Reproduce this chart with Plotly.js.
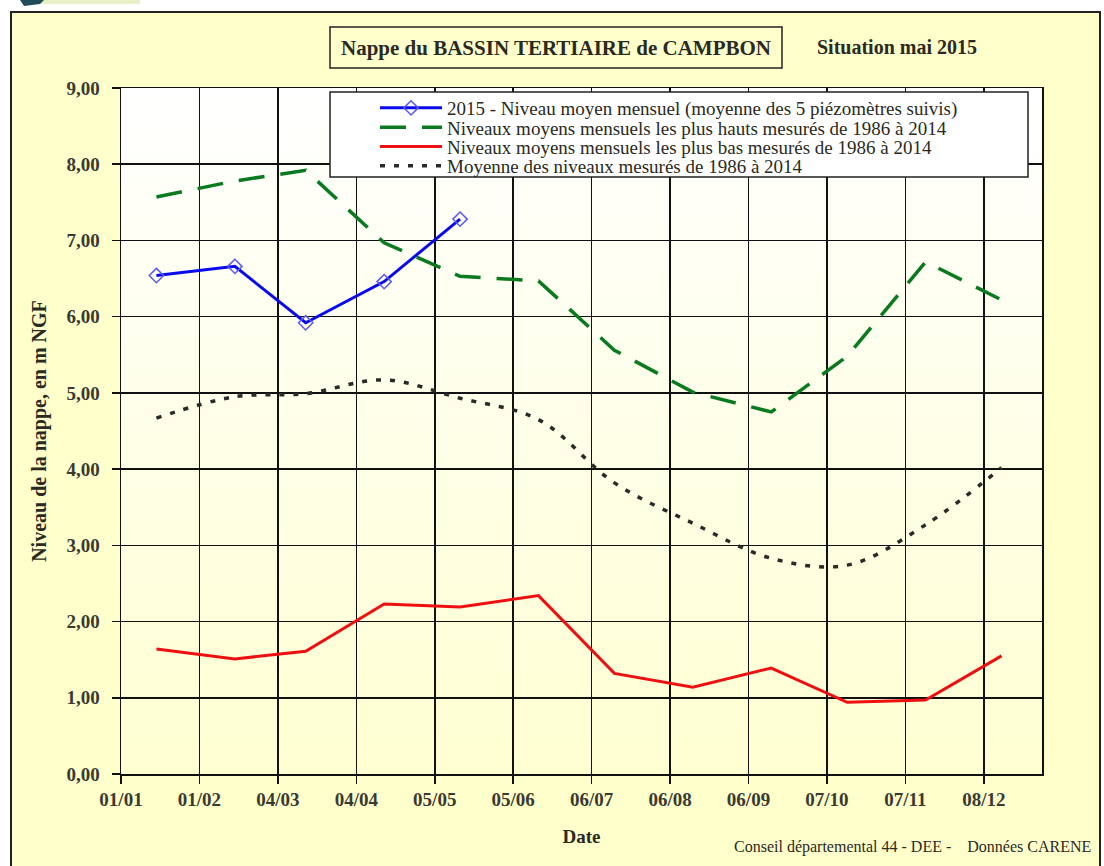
<!DOCTYPE html>
<html>
<head>
<meta charset="utf-8">
<script src="https://cdn.plot.ly/plotly-3.0.1.min.js"></script>
<style>html,body{margin:0;padding:0;background:#fff;}#chart{width:1104px;height:866px;}</style>
</head>
<body>
<div id="chart"></div>
<script>
// ---- Data ----
const months = ['2015-01-15','2015-02-15','2015-03-15','2015-04-15','2015-05-15','2015-06-15',
                '2015-07-15','2015-08-15','2015-09-15','2015-10-15','2015-11-15','2015-12-15'];
const months2015 = ['2015-01-15','2015-02-15','2015-03-15','2015-04-15','2015-05-15'];
const niveau2015 = [6.54, 6.66, 5.92, 6.46, 7.28];
const plusHauts = [7.57, 7.78, 7.92, 6.97, 6.53, 6.47, 5.56, 5.01, 4.75, 5.48, 6.72, 6.22];
const plusBas   = [1.64, 1.51, 1.61, 2.23, 2.19, 2.34, 1.32, 1.14, 1.39, 0.94, 0.97, 1.55];
const moyenne   = [4.67, 4.95, 4.99, 5.17, 4.93, 4.65, 3.82, 3.29, 2.83, 2.74, 3.27, 4.02];
const tickDates = ['2015-01-01','2015-02-01','2015-03-04','2015-04-04','2015-05-05','2015-06-05',
                   '2015-07-06','2015-08-06','2015-09-06','2015-10-07','2015-11-07','2015-12-08'];
const tickLabels = ['01/01','01/02','04/03','04/04','05/05','05/06','06/07','06/08','06/09','07/10','07/11','08/12'];
const seriesNames = [
  '2015 - Niveau moyen mensuel (moyenne des 5 piézomètres suivis)',
  'Niveaux moyens mensuels les plus hauts mesurés de 1986 à 2014',
  'Niveaux moyens mensuels les plus bas mesurés de 1986 à 2014',
  'Moyenne des niveaux mesurés de 1986 à 2014'
];

const SERIF = 'Liberation Serif, Times New Roman, serif';
const TXT = '#2a2a22';

const traces = [
  {x: months2015, y: niveau2015, name: seriesNames[0], type: 'scatter', mode: 'lines+markers',
   line: {color: '#0A0AF0', width: 3},
   marker: {symbol: 'diamond-open', size: 11, color: '#5A5AF0', line: {width: 1.5, color: '#5A5AF0'}}},
  {x: months, y: plusHauts, name: seriesNames[1], type: 'scatter', mode: 'lines',
   line: {color: '#0A7A1E', width: 3.5, dash: '26px,16px'}},
  {x: months, y: plusBas, name: seriesNames[2], type: 'scatter', mode: 'lines',
   line: {color: '#EE1010', width: 3}},
  {x: months, y: moyenne, name: seriesNames[3], type: 'scatter', mode: 'lines',
   line: {color: '#2a2a2a', width: 3.5, dash: '5px,9px', shape: 'spline', smoothing: 1}}
];

// plot area geometry helpers (pixels -> paper)
const L = 121, R = 1042, T = 88, B = 774;
const px = v => (v - L) / (R - L);
const py = v => (B - v) / (B - T);

const gradSvg = '<svg xmlns="http://www.w3.org/2000/svg" width="100" height="100" preserveAspectRatio="none">' +
  '<defs><linearGradient id="g" x1="0" y1="0" x2="0" y2="1">' +
  '<stop offset="0" stop-color="#FFFFFF"/><stop offset="1" stop-color="#FFFFD2"/></linearGradient></defs>' +
  '<rect width="100" height="100" fill="url(#g)"/></svg>';

const layout = {
  width: 1104, height: 866,
  margin: {l: L, r: 1104 - R, t: T, b: 866 - B, pad: 0},
  paper_bgcolor: '#FFFFCC',
  plot_bgcolor: 'rgba(0,0,0,0)',
  separators: ', ',
  font: {family: SERIF, color: TXT},
  title: {text: '<b>Nappe du BASSIN TERTIAIRE de CAMPBON</b>', xref: 'container', yref: 'container',
          x: 556 / 1104, xanchor: 'center', y: 1 - 48 / 866, yanchor: 'middle',
          font: {family: SERIF, size: 21, color: TXT}},
  xaxis: {
    type: 'date', range: ['2015-01-01', '2015-12-31'],
    tickmode: 'array', tickvals: tickDates, ticktext: tickLabels,
    ticks: 'outside', ticklen: 8, tickwidth: 1.5, tickcolor: '#111',
    showgrid: true, gridcolor: '#111', gridwidth: 1.5,
    showline: true, linecolor: '#111', linewidth: 1.5, mirror: true,
    zeroline: false,
    tickfont: {family: SERIF, size: 19, color: '#3a3a30', weight: 'bold'},
    title: {text: '<b>Date</b>', font: {family: SERIF, size: 19, color: TXT}, standoff: 20}
  },
  yaxis: {
    range: [0, 9], dtick: 1, tick0: 0, tickformat: '.2f',
    ticks: 'outside', ticklen: 8, tickwidth: 1.5, tickcolor: '#111',
    showgrid: true, gridcolor: '#111', gridwidth: 1.5,
    showline: true, linecolor: '#111', linewidth: 1.5, mirror: true,
    zeroline: false, ticklabelstandoff: 8,
    tickfont: {family: SERIF, size: 19, color: '#3a3a30', weight: 'bold'},
    title: {text: '<b>Niveau de la nappe, en m NGF</b>', font: {family: SERIF, size: 20, color: TXT}, standoff: 14}
  },
  showlegend: true,
  legend: {
    x: px(375), xanchor: 'left', y: py(89), yanchor: 'top',
    bgcolor: 'rgba(0,0,0,0)', borderwidth: 0,
    font: {family: SERIF, size: 19, color: TXT},
    itemwidth: 62, tracegroupgap: 0
  },
  images: [{source: 'data:image/svg+xml;charset=utf-8,' + encodeURIComponent(gradSvg),
            xref: 'paper', yref: 'paper', x: 0, y: 1, sizex: 1, sizey: 1,
            sizing: 'stretch', layer: 'below', xanchor: 'left', yanchor: 'top'}],
  shapes: [
    // white margins outside the outer frame
    {type: 'rect', xref: 'paper', yref: 'paper', x0: px(0), x1: px(1104), y0: py(12), y1: py(0),
     fillcolor: '#FFFFFF', line: {width: 0}, layer: 'below'},
    {type: 'rect', xref: 'paper', yref: 'paper', x0: px(0), x1: px(11), y0: py(866), y1: py(12),
     fillcolor: '#FFFFFF', line: {width: 0}, layer: 'below'},
    {type: 'rect', xref: 'paper', yref: 'paper', x0: px(1100), x1: px(1104), y0: py(866), y1: py(12),
     fillcolor: '#FFFFFF', line: {width: 0}, layer: 'below'},
    // partial logo at the top-left corner
    {type: 'rect', xref: 'paper', yref: 'paper', x0: px(40), x1: px(140), y0: py(4), y1: py(0),
     fillcolor: '#E8F0C8', line: {width: 0}, layer: 'below'},
    {type: 'path', xref: 'paper', yref: 'paper', layer: 'below', fillcolor: '#1F4E5A', line: {width: 0},
     path: `M ${px(20)} ${py(0)} L ${px(44)} ${py(0)} L ${px(40)} ${py(4)} L ${px(24)} ${py(6)} Z`},
    // outer frame
    {type: 'rect', xref: 'paper', yref: 'paper', x0: px(11), x1: px(1100), y0: py(880), y1: py(12),
     line: {color: '#222', width: 2}, layer: 'above'},
    // title box
    {type: 'rect', xref: 'paper', yref: 'paper', x0: px(330), x1: px(782), y0: py(68), y1: py(27),
     line: {color: '#222', width: 1.5}, layer: 'above'},
    // legend box
    {type: 'rect', xref: 'paper', yref: 'paper', x0: px(330), x1: px(1028), y0: py(177), y1: py(92),
     fillcolor: '#FFFFFF', line: {color: '#222', width: 1.5}, layer: 'above'}
  ],
  annotations: [
    {text: '<b>Situation mai 2015</b>', xref: 'paper', yref: 'paper', x: px(897), y: py(47),
     xanchor: 'center', yanchor: 'middle', showarrow: false,
     font: {family: SERIF, size: 20, color: TXT}},
    {text: 'Conseil départemental 44 - DEE -    Données CARENE', xref: 'paper', yref: 'paper',
     x: px(1093), y: py(847), xanchor: 'right', yanchor: 'middle', showarrow: false,
     font: {family: SERIF, size: 16, color: TXT}}
  ]
};

Plotly.newPlot('chart', traces, layout, {displayModeBar: false, staticPlot: true}).then(gd => {
  // tighten legend row spacing to match the compact legend of the reference
  const items = gd.querySelectorAll('.legend .traces');
  if (!items.length) return;
  const m = /translate\(\s*([-\d.]+)[ ,]+([-\d.]+)\s*\)/.exec(items[0].getAttribute('transform') || '');
  if (!m) return;
  const x0 = parseFloat(m[1]), y0 = parseFloat(m[2]);
  items.forEach((el, i) => el.setAttribute('transform', `translate(${x0},${y0 + i * 19.3})`));
});
</script>
</body>
</html>
